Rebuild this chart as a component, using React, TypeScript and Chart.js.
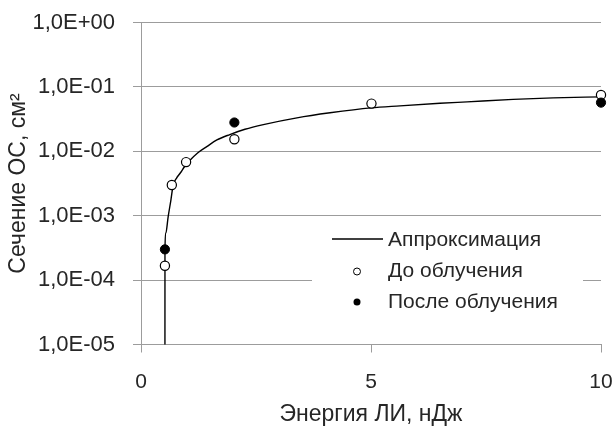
import React, { useEffect, useRef } from 'react';
import { Chart, registerables } from 'chart.js';

Chart.register(...registerables);

// ---- data ----
const fitLabel = 'Аппроксимация';
const fitEnergy = [0.52, 0.521, 0.54, 0.59, 0.65, 0.7, 0.77, 0.85, 0.95, 1.07, 1.23, 1.43, 1.65, 1.93, 2.26, 2.66, 3.39, 4.11, 5.0, 5.63, 6.5, 7.09, 8.09, 8.96, 10];
const fitSigma = [1e-6, 2.9e-4, 5.4e-4, 9.6e-4, 1.75e-3, 3.0e-3, 3.8e-3, 4.56e-3, 5.8e-3, 7.3e-3, 9.4e-3, 1.18e-2, 1.5e-2, 1.82e-2, 2.2e-2, 2.6e-2, 3.31e-2, 3.96e-2, 4.73e-2, 5.08e-2, 5.56e-2, 5.86e-2, 6.41e-2, 6.76e-2, 7.0e-2];

const beforeLabel = 'До облучения';
const beforeEnergy = [0.52, 0.67, 0.98, 2.03, 5.01, 10];
const beforeSigma = [1.67e-4, 3.0e-3, 6.8e-3, 1.54e-2, 5.5e-2, 7.5e-2];

const afterLabel = 'После облучения';
const afterEnergy = [0.52, 2.03, 10];
const afterSigma = [3.0e-4, 2.8e-2, 5.7e-2];

const yTickValues = [1e-5, 1e-4, 1e-3, 1e-2, 1e-1, 1];
const yTickLabels = ['1,0E-05', '1,0E-04', '1,0E-03', '1,0E-02', '1,0E-01', '1,0E+00'];
const xTickValues = [0, 5, 10];
const xTickLabels = ['0', '5', '10'];

const xTitle = 'Энергия ЛИ, нДж';
const yTitle = 'Сечение ОС, см²';

const FONT = '"Liberation Sans", Arial, sans-serif';
const TEXT = '#262626';
const GRID = '#9c9c9c';

const legendPlugin = {
  id: 'boxLegend',
  afterDraw(chart: any) {
    const ctx = chart.ctx as CanvasRenderingContext2D;
    const ds = chart.data.datasets;
    ctx.save();
    ctx.fillStyle = '#ffffff';
    ctx.fillRect(312, 222, 271, 100);
    ctx.font = `21px ${FONT}`;
    ctx.textBaseline = 'middle';
    ctx.textAlign = 'left';
    const rows = [240, 271.5, 302];
    // row 1: line sample
    ctx.strokeStyle = '#000';
    ctx.lineWidth = 1.3;
    ctx.beginPath();
    ctx.moveTo(332, 239);
    ctx.lineTo(383, 239);
    ctx.stroke();
    ctx.fillStyle = TEXT;
    ctx.fillText(ds[0].label, 388, rows[0]);
    // row 2: open circle
    ctx.beginPath();
    ctx.arc(357, rows[1], 3.5, 0, Math.PI * 2);
    ctx.fillStyle = '#fff';
    ctx.fill();
    ctx.lineWidth = 1;
    ctx.strokeStyle = '#000';
    ctx.stroke();
    ctx.fillStyle = TEXT;
    ctx.fillText(ds[1].label, 388, rows[1]);
    // row 3: filled circle
    ctx.beginPath();
    ctx.arc(357, rows[2], 3.5, 0, Math.PI * 2);
    ctx.fillStyle = '#000';
    ctx.fill();
    ctx.fillStyle = TEXT;
    ctx.fillText(ds[2].label, 388, rows[2]);
    ctx.restore();
  },
};

const zeroPad = (s: any) => {
  s.paddingTop = 0;
  s.paddingBottom = 0;
  s.paddingLeft = 0;
  s.paddingRight = 0;
};

export default function App() {
  const ref = useRef<HTMLCanvasElement | null>(null);

  useEffect(() => {
    if (!ref.current) return;
    const chart = new Chart(ref.current, {
      type: 'scatter',
      data: {
        datasets: [
          {
            label: fitLabel,
            data: fitEnergy.map((x, i) => ({ x, y: fitSigma[i] })),
            showLine: true,
            borderColor: '#000',
            borderWidth: 1.4,
            pointRadius: 0,
            cubicInterpolationMode: 'monotone',
            order: 3,
          },
          {
            label: beforeLabel,
            data: beforeEnergy.map((x, i) => ({ x, y: beforeSigma[i] })),
            pointRadius: 4.6,
            pointBackgroundColor: '#fff',
            pointBorderColor: '#000',
            pointBorderWidth: 1.2,
            showLine: false,
            clip: false,
            order: 2,
          },
          {
            label: afterLabel,
            data: afterEnergy.map((x, i) => ({ x, y: afterSigma[i] })),
            pointRadius: 4.6,
            pointBackgroundColor: '#000',
            pointBorderColor: '#000',
            pointBorderWidth: 1,
            showLine: false,
            clip: false,
            order: 1,
          },
        ],
      },
      options: {
        animation: false,
        responsive: false,
        maintainAspectRatio: false,
        layout: { padding: { left: 0, right: 15, top: 22.5, bottom: 0 } },
        plugins: {
          legend: { display: false },
          tooltip: { enabled: false },
        },
        scales: {
          x: {
            type: 'linear',
            min: 0,
            max: 10,
            afterFit: (s: any) => {
              s.height = 90.5;
              zeroPad(s);
            },
            afterBuildTicks: (s: any) => {
              s.ticks = xTickValues.map((v) => ({ value: v }));
            },
            ticks: {
              callback: (_v: any, i: number) => xTickLabels[i],
              font: { family: FONT, size: 21 },
              color: TEXT,
              padding: 17,
              maxRotation: 0,
            },
            grid: {
              drawOnChartArea: false,
              drawTicks: true,
              tickLength: 8,
              color: GRID,
            },
            border: { display: true, color: GRID, width: 1 },
            title: {
              display: true,
              text: xTitle,
              font: { family: FONT, size: 23 },
              color: TEXT,
              padding: { top: 0, bottom: 7 },
            },
          },
          y: {
            type: 'logarithmic',
            min: 1e-5,
            max: 1,
            afterFit: (s: any) => {
              s.width = 141;
              zeroPad(s);
            },
            afterBuildTicks: (s: any) => {
              s.ticks = yTickValues.map((v) => ({ value: v }));
            },
            ticks: {
              callback: (_v: any, i: number) => yTickLabels[i],
              font: { family: FONT, size: 22 },
              color: TEXT,
              padding: 18,
            },
            grid: {
              drawOnChartArea: true,
              drawTicks: true,
              tickLength: 8,
              color: GRID,
              lineWidth: 1,
            },
            border: { display: true, color: GRID, width: 1 },
            title: {
              display: true,
              text: yTitle,
              font: { family: FONT, size: 23 },
              color: TEXT,
              padding: { top: 5, bottom: 0 },
            },
          },
        },
      },
      plugins: [legendPlugin],
    });
    return () => chart.destroy();
  }, []);

  return (
    <div style={{ position: 'fixed', left: 0, top: 0, width: 616, height: 435, background: '#fff' }}>
      <canvas ref={ref} width={616} height={435} style={{ display: 'block', width: 616, height: 435 }} />
    </div>
  );
}
